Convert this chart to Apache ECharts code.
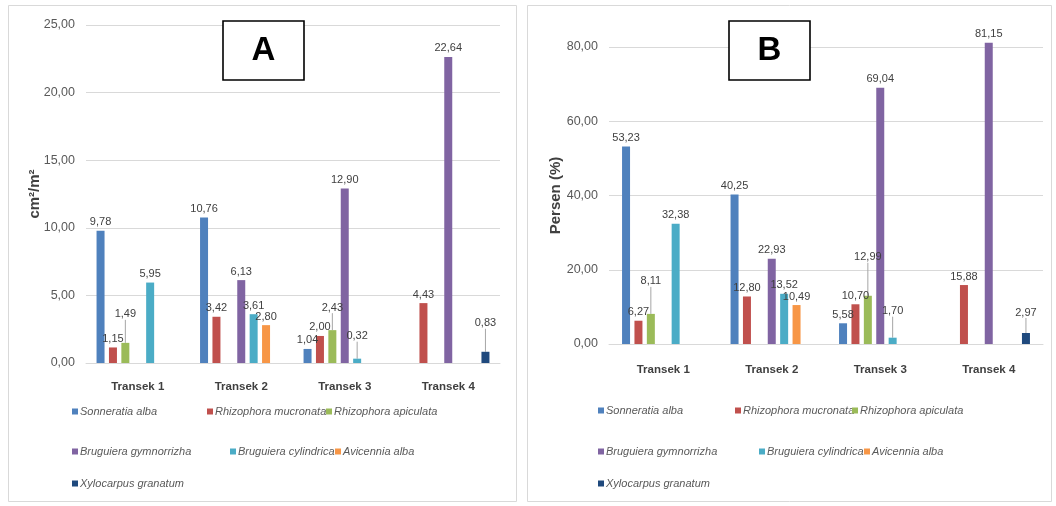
<!DOCTYPE html>
<html>
<head>
<meta charset="utf-8">
<script src="https://cdn.jsdelivr.net/npm/echarts@6/dist/echarts.min.js"></script>
<style>
  html, body { margin: 0; padding: 0; background: #fff; }
  #chart { width: 1056px; height: 506px; }
</style>
</head>
<body>
<div id="chart"></div>
<script>
// Transects and mangrove species
const transects = ['Transek 1', 'Transek 2', 'Transek 3', 'Transek 4'];
const species = [
  'Sonneratia alba', 'Rhizophora mucronata', 'Rhizophora apiculata',
  'Bruguiera gymnorrizha', 'Bruguiera cylindrica', 'Avicennia alba', 'Xylocarpus granatum'
];

// Panel A: basal area (cm²/m²) per species, per transect (null = absent)
const areaSonneratia   = [9.78, 10.76, 1.04, null];
const areaRMucronata   = [1.15, 3.42, 2.00, 4.43];
const areaRApiculata   = [1.49, null, 2.43, null];
const areaBGymnorrizha = [null, 6.13, 12.90, 22.64];
const areaBCylindrica  = [5.95, 3.61, 0.32, null];
const areaAvicennia    = [null, 2.80, null, null];
const areaXylocarpus   = [null, null, null, 0.83];

// Panel B: percentage (%) per species, per transect
const pctSonneratia   = [53.23, 40.25, 5.58, null];
const pctRMucronata   = [6.27, 12.80, 10.70, 15.88];
const pctRApiculata   = [8.11, null, 12.99, null];
const pctBGymnorrizha = [null, 22.93, 69.04, 81.15];
const pctBCylindrica  = [32.38, 13.52, 1.70, null];
const pctAvicennia    = [null, 10.49, null, null];
const pctXylocarpus   = [null, null, null, 2.97];

// Axis ticks
const ticksA = [0, 5, 10, 15, 20, 25];
const ticksB = [0, 20, 40, 60, 80];

const colors = ['#4F81BD', '#C0504D', '#9BBB59', '#8064A2', '#4BACC6', '#F79646', '#1F497D'];

const seriesA = [areaSonneratia, areaRMucronata, areaRApiculata, areaBGymnorrizha, areaBCylindrica, areaAvicennia, areaXylocarpus];
const seriesB = [pctSonneratia, pctRMucronata, pctRApiculata, pctBGymnorrizha, pctBCylindrica, pctAvicennia, pctXylocarpus];

// Labels lifted above crowded bars, with a thin leader line: [species index, transect index, dy]
const liftA = [[2, 0, -20], [6, 3, -20], [4, 2, -14], [2, 2, -14]];
const liftB = [[2, 0, -24], [2, 2, -30], [4, 2, -18], [6, 3, -12]];

const fmt = v => v.toFixed(2).replace('.', ',');
const SANS = "'Liberation Sans', Arial, sans-serif";

function liftOf(list, s, i) {
  const hit = list.find(l => l[0] === s && l[1] === i);
  return hit ? hit[2] : 0;
}

function buildSeries(values, gridIdx, lifts) {
  return values.map((vals, s) => ({
    name: species[s],
    type: 'bar',
    xAxisIndex: gridIdx,
    yAxisIndex: gridIdx,
    barWidth: 8,
    barGap: '55%',
    clip: false,
    itemStyle: { color: colors[s] },
    label: {
      show: true,
      position: 'top',
      distance: 3,
      color: '#404040',
      fontFamily: SANS,
      fontSize: 11,
      formatter: p => fmt(p.value)
    },
    labelLine: { show: false, lineStyle: { color: '#a6a6a6', width: 1 } },
    labelLayout: p => {
      const dy = liftOf(lifts, s, p.dataIndex);
      return dy ? { dy: dy } : {};
    },
    data: vals.map((v, i) => v == null ? '-' : (
      liftOf(lifts, s, i) ? { value: v, labelLine: { show: true } } : v
    ))
  }));
}

// Legend placement, one entry per species: [x, y] of the swatch
const legendPosA = [[72, 413], [207, 413], [326, 413], [72, 453], [230, 453], [335, 453], [72, 485]];
const legendPosB = [[598, 412], [735, 412], [852, 412], [598, 453], [759, 453], [864, 453], [598, 485]];

function buildLegends(pos) {
  return pos.map((p, s) => ({
    data: [species[s]],
    left: p[0],
    top: p[1] - 7,
    icon: 'rect',
    itemWidth: 6,
    itemHeight: 6,
    itemGap: 2,
    padding: 0,
    selectedMode: false,
    textStyle: { fontFamily: SANS, fontStyle: 'italic', fontSize: 11, color: '#595959', padding: [0, 0, 0, -3] }
  }));
}

function yAxis(gridIdx, ticks, name, nameGap) {
  return {
    gridIndex: gridIdx,
    type: 'value',
    min: ticks[0],
    max: ticks[ticks.length - 1],
    interval: ticks[1] - ticks[0],
    name: name,
    nameLocation: 'middle',
    nameGap: nameGap,
    nameMoveOverlap: false,
    nameTextStyle: { fontFamily: SANS, fontWeight: 'bold', fontSize: 15, color: '#404040' },
    axisLine: { show: false },
    axisTick: { show: false },
    axisLabel: { color: '#595959', fontFamily: SANS, fontSize: 12.5, margin: 11, formatter: v => fmt(v) },
    splitLine: { lineStyle: { color: '#d9d9d9', width: 1 } }
  };
}

function xAxis(gridIdx, margin) {
  return {
    gridIndex: gridIdx,
    type: 'category',
    data: transects,
    axisLine: { lineStyle: { color: '#d9d9d9' } },
    axisTick: { show: false },
    axisLabel: { color: '#404040', fontFamily: SANS, fontWeight: 'bold', fontSize: 11.5, margin: margin }
  };
}

function panelBox(x, y, letter) {
  return {
    type: 'group',
    z: 100,
    children: [
      { type: 'rect', z: 100, shape: { x: x, y: y, width: 81, height: 59 }, style: { fill: '#fff', stroke: '#000', lineWidth: 1.6 } },
      { type: 'text', z: 101, x: x + 40.5, y: y + 30, style: { text: letter, fill: '#000', font: "bold 33px 'Liberation Sans', sans-serif", align: 'center', verticalAlign: 'middle' } }
    ]
  };
}

const chart = echarts.init(document.getElementById('chart'), null, { renderer: 'canvas' });

chart.setOption({
  animation: false,
  backgroundColor: '#ffffff',
  grid: [
    { left: 86, width: 414, top: 25, height: 338 },
    { left: 609, width: 434, top: 47, height: 297 }
  ],
  xAxis: [xAxis(0, 18), xAxis(1, 20)],
  yAxis: [
    yAxis(0, ticksA, 'cm²/m²', 44),
    yAxis(1, ticksB, 'Persen (%)', 46)
  ],
  legend: buildLegends(legendPosA).concat(buildLegends(legendPosB)),
  series: buildSeries(seriesA, 0, liftA).concat(buildSeries(seriesB, 1, liftB)),
  graphic: [
    { type: 'rect', z: -10, shape: { x: 8.5, y: 5.5, width: 508, height: 496 }, style: { fill: 'none', stroke: '#d9d9d9', lineWidth: 1 } },
    { type: 'rect', z: -10, shape: { x: 527.5, y: 5.5, width: 524, height: 496 }, style: { fill: 'none', stroke: '#d9d9d9', lineWidth: 1 } },
    panelBox(223, 21, 'A'),
    panelBox(729, 21, 'B')
  ]
});
</script>
</body>
</html>
